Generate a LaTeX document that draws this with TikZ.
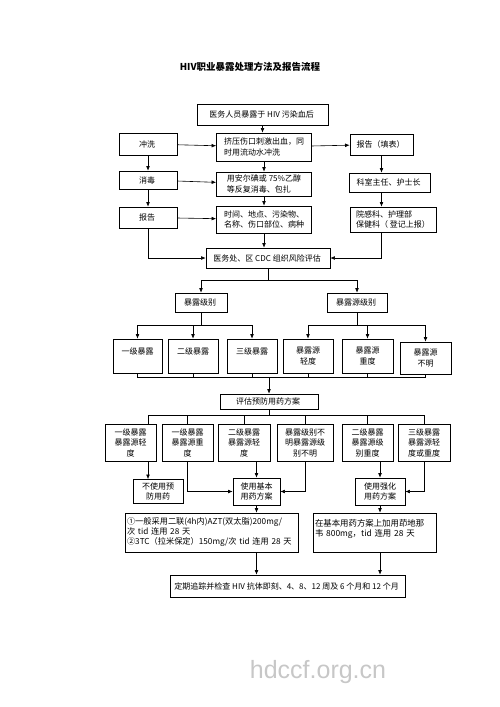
\documentclass[tikz,border=0pt]{standalone}
\usepackage{fontspec}
\setmainfont{Noto Sans CJK SC}
\newfontfamily\wmfont{Liberation Sans}
\usepackage{tikz}
\usetikzlibrary{calc,arrows.meta,positioning}

\begin{document}
\begin{tikzpicture}[
    x=1pt, y=-1pt,
    every node/.style={font=\fontsize{8}{10.5}\selectfont},
    box/.style={
        rectangle,
        draw,
        line width=0.6pt,
        align=center,
        inner sep=1.5pt
    },
    leftbox/.style={
        box,
        align=left
    },
    arrow/.style={
        -{Latex[length=1.6mm,width=1.3mm]},
        line width=0.6pt
    },
    link/.style={
        line width=0.6pt
    }
]

\useasboundingbox (0,0) rectangle (500,707);

% =========================================================
% TITLE
% =========================================================

\node[font=\bfseries\fontsize{9.5}{11}\selectfont] (title) at (250,67) {
HIV职业暴露处理方法及报告流程
};

\node[box, minimum width=131, minimum height=21] (exposed) at (262.5,114.5) {
医务人员暴露于 HIV 污染血后
};


% =========================================================
% LEFT / MIDDLE / RIGHT COLUMNS
% =========================================================

\node[box, minimum width=58, minimum height=22] (rinse) at (148,144) {
冲洗
};

\node[leftbox, minimum width=95, minimum height=28] (squeeze) at (264,147) {
挤压伤口刺激出血，同\\
时用流动水冲洗
};

\node[box, minimum width=63, minimum height=21] (report) at (381.5,144.5) {
报告（填表）
};

\node[box, minimum width=58, minimum height=18] (disinfect) at (148,180) {
消毒
};

\node[leftbox, minimum width=95, minimum height=24] (iodine) at (264,184) {
用安尔碘或 75\%乙醇\\
等反复消毒、包扎
};

\node[box, minimum width=81, minimum height=19] (head) at (389.5,182.5) {
科室主任、护士长
};

\node[box, minimum width=58, minimum height=21] (report2) at (148,217.5) {
报告
};

\node[leftbox, minimum width=95, minimum height=27] (record) at (264,219.5) {
时间、地点、污染物、\\
名称、伤口部位、病种
};

\node[leftbox, minimum width=86, minimum height=25] (infection) at (393,219.5) {
院感科、护理部\\
保健科（ 登记上报）
};

\node[box, minimum width=124, minimum height=20] (assess) at (268,258) {
医务处、区 CDC 组织风险评估
};


% =========================================================
% EXPOSURE LEVELS
% =========================================================

\node[box, minimum width=52, minimum height=19] (level) at (201,302.5) {
暴露级别
};

\node[box, minimum width=60, minimum height=19] (source) at (357,302.5) {
暴露源级别
};

\node[box, minimum width=49, minimum height=34] (e1) at (137.5,356) {一级暴露\\~};
\node[box, minimum width=50, minimum height=34] (e2) at (193,356) {二级暴露\\~};
\node[box, minimum width=50, minimum height=34] (e3) at (252,356) {三级暴露\\~};
\node[box, minimum width=50, minimum height=34] (s1) at (308,356) {暴露源\\轻度};
\node[box, minimum width=51, minimum height=34] (s2) at (367.5,356) {暴露源\\重度};
\node[box, minimum width=51, minimum height=32] (s3) at (425.5,358) {暴露源\\不明};

\node[box, minimum width=98, minimum height=15] (plan) at (269,401.5) {
评估预防用药方案
};


% =========================================================
% CASES AND REGIMENS
% =========================================================

\node[box, minimum width=51, minimum height=37] (c1) at (130.5,442.5) {一级暴露\\暴露源轻\\度};
\node[box, minimum width=51, minimum height=37] (c2) at (187.5,442.5) {一级暴露\\暴露源重\\度};
\node[box, minimum width=52, minimum height=37] (c3) at (244,442.5) {二级暴露\\暴露源轻\\度};
\node[box, minimum width=56, minimum height=37] (c4) at (305,442.5) {暴露级别不\\明暴露源级\\别不明};
\node[box, minimum width=51, minimum height=37] (c5) at (367.5,442.5) {二级暴露\\暴露源级\\别重度};
\node[box, minimum width=52, minimum height=37] (c6) at (424,442.5) {三级暴露\\暴露源轻\\度或重度};

\node[box, minimum width=50, minimum height=24] (nodrug) at (158,491.5) {
不使用预\\
防用药
};

\node[box, minimum width=47, minimum height=27] (basic) at (256.5,491.5) {
使用基本\\
用药方案
};

\node[box, minimum width=50, minimum height=27] (strong) at (380,491.5) {
使用强化\\
用药方案
};

\node[leftbox, text width=170, minimum height=39,
      font=\fontsize{8.2}{10}\selectfont] (regimen) at (212,532.5) {
①一般采用二联(4h内)AZT(双太脂)200mg/\\
次 tid 连用 28 天\\
②3TC（拉米保定）150mg/次 tid 连用 28 天
};

\node[leftbox, text width=120, minimum height=39,
      font=\fontsize{8.4}{10}\selectfont] (addon) at (375,532.5) {
在基本用药方案上加用茚地那\\
韦 800mg，tid 连用 28 天\\
~
};

\node[box, minimum width=235, minimum height=22] (follow) at (287.5,586) {
定期追踪并检查 HIV 抗体即刻、4、8、12 周及 6 个月和 12 个月
};

\node[text=black!22, font=\wmfont\fontsize{25}{25}\selectfont] (mark) at (318,672) {
hdccf.org.cn
};


% =========================================================
% FIRST AID AND REPORTING FLOW
% =========================================================

\draw[arrow] (exposed) -- (exposed |- squeeze.north);
\draw[arrow] (squeeze) -- (iodine);
\draw[arrow] (iodine) -- (record);
\draw[arrow] (record) -- (record |- assess.north);

\draw[arrow] (rinse) -- (squeeze);
\draw[arrow] (disinfect) -- (iodine);
\draw[arrow] (report2) -- (record);
\draw[arrow] (squeeze) -- (report);

\draw[arrow] (rinse) -- (disinfect);
\draw[arrow] (disinfect) -- (report2);

\draw[arrow] (report.south) -- (report.south |- head.north);
\draw[arrow] (report.south |- head.south) -- (report.south |- infection.north);

% both side columns rejoin the risk assessment
\draw[arrow] (report2.south) |- (assess.west);
\draw[arrow] (report.south |- infection.south) |- (assess.east);


% =========================================================
% LEVEL SPLIT
% =========================================================

\draw[link] (assess.south) -- ++(0,12) coordinate (split);
\draw[arrow] (split) -| (level.north);
\draw[arrow] (split) -| (source.north);

\draw[link] (level.south) -- ++(0,13) coordinate (levelsplit);
\foreach \n in {e1,e2,e3}
    \draw[arrow] (levelsplit) -| (\n.north);

\draw[link] (source.south) -- ++(0,13) coordinate (sourcesplit);
\foreach \n in {s1,s2,s3}
    \draw[arrow] (sourcesplit) -| (\n.north);

% all six rejoin above the plan
\coordinate (merge) at ([yshift=16pt]plan.north);
\foreach \n in {e1,e2,e3,s1,s2,s3}
    \draw[link] (\n.south) |- (merge);
\draw[arrow] (merge) -- (plan.north);


% =========================================================
% CASES TO REGIMENS
% =========================================================

\draw[link] (plan.south) -- ++(0,6) coordinate (casesplit);
\draw[link] (casesplit) -| ([xshift=17.5pt]c1.north);
\foreach \n in {c2,c3,c4,c5,c6}
    \draw[link] (casesplit) -| (\n.north);

\draw[arrow] ([xshift=17.5pt]c1.south) -- ([xshift=17.5pt]c1.south |- nodrug.north);
\draw[arrow] (c2.south) |- (basic.west);
\draw[arrow] (c3.south -| basic.north) -- (basic.north);
\draw[arrow] (c4.south) |- (basic.east);
\draw[arrow] (c5.south -| strong.north) -- (strong.north);
\draw[arrow] (c6.south) |- (strong.east);

\draw[arrow] (basic) -- (basic |- regimen.north);
\draw[arrow] (strong) -- (strong |- addon.north);

\draw[arrow] (basic |- regimen.south) -- (basic |- follow.north);
\draw[arrow] (strong |- addon.south) -- (strong |- follow.north);

\end{tikzpicture}
\end{document}
